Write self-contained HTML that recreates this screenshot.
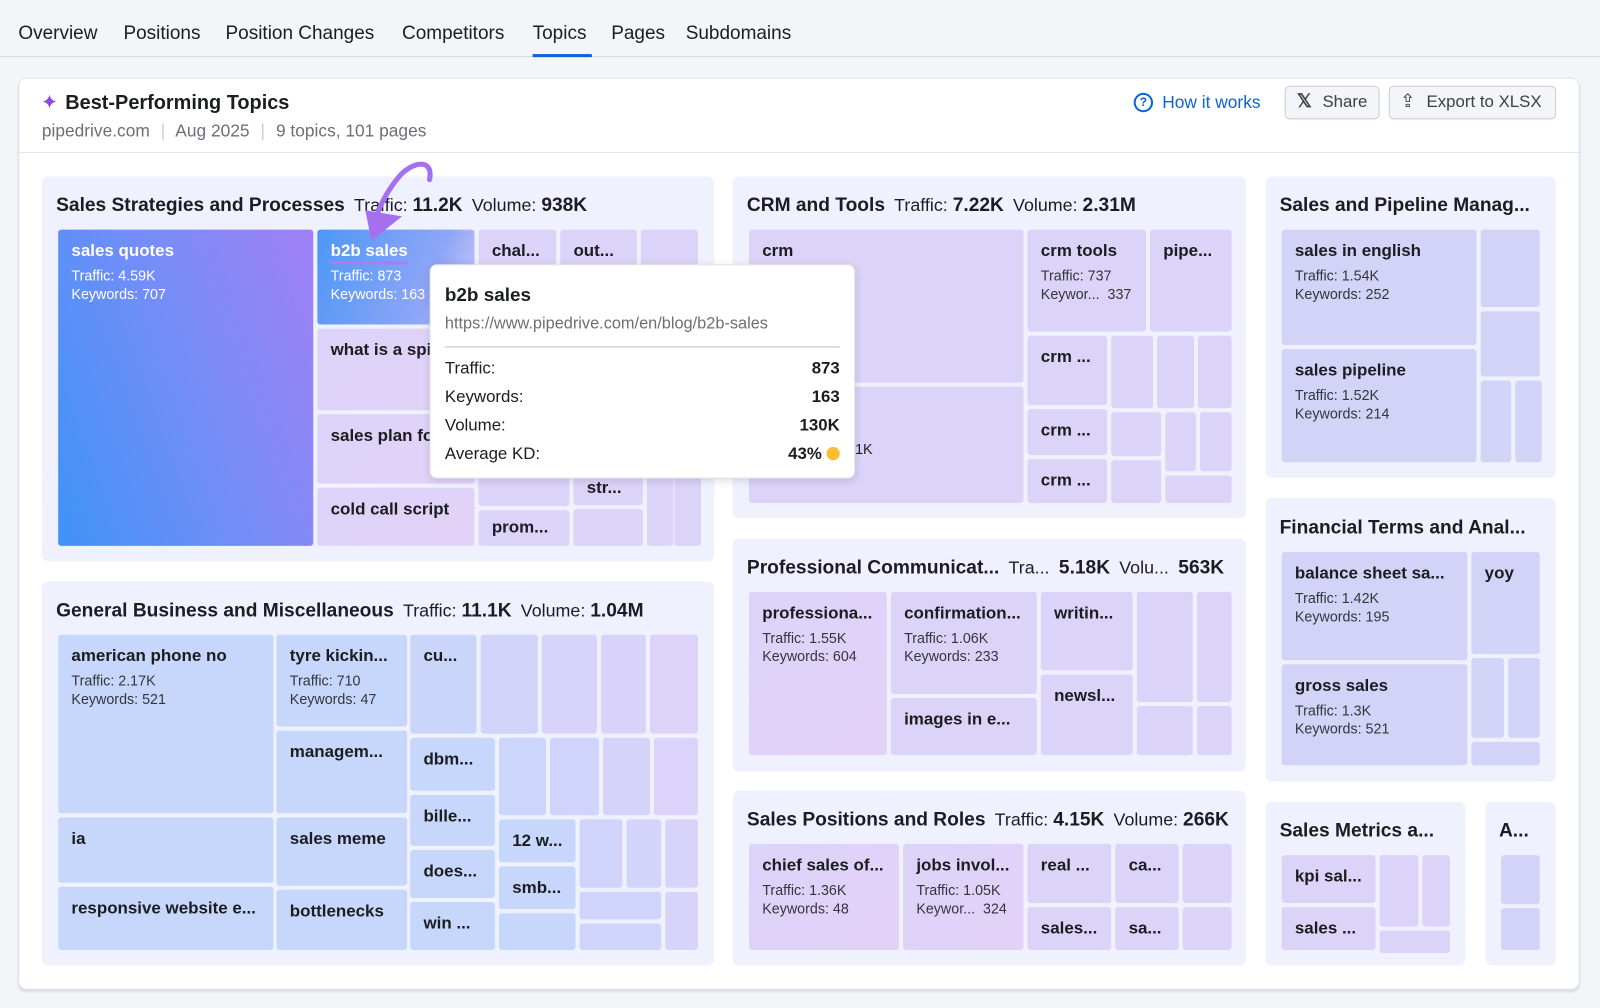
<!DOCTYPE html>
<html><head><meta charset="utf-8">
<style>
*{box-sizing:border-box;margin:0;padding:0}
html,body{width:1600px;height:1008px;overflow:hidden;background:#f4f5f9;font-family:"Liberation Sans",sans-serif;color:#1b1d21}
#w{position:absolute;left:0;top:0;width:1568px;height:988px;transform:scale(1.0204);transform-origin:0 0}
.a{position:absolute}
.nav{font-size:18.6px;top:21px;color:#1b1d21}
.card{left:18px;top:76px;width:1530px;height:894px;background:#fff;border:1px solid #e2e4ea;border-radius:8px;box-shadow:0 2px 2px #d8dae2}
.p{position:absolute;background:#eff2fe;border-radius:6px}
.h{position:absolute;font-size:18.8px;font-weight:bold;white-space:nowrap}
.h span{font-weight:normal;font-size:17.5px;margin-left:9px}
.h b{font-weight:bold;font-size:18.8px}
.t{position:absolute;border-radius:3px;background:#c6d7fb;padding:11px 13px;overflow:hidden;white-space:nowrap}
.l{background:#dcd3f8}
.f{background:#d3d3f8}
.v{background:linear-gradient(135deg,#dcd3f8,#e3d2f8)}
.t b{display:block;font-size:16.6px;margin-bottom:5px}
.t i{display:block;font-style:normal;font-size:14px;line-height:18px;color:#33363d}
.btn{position:absolute;top:84px;height:33px;border:1px solid #c9ccd4;border-radius:5px;background:#f4f5f8;font-size:16.5px;color:#3c3f46;padding:6px 10px 0 36px}
</style></head><body><div id="w">
<div class="a nav" style="left:18px">Overview</div>
<div class="a nav" style="left:121px">Positions</div>
<div class="a nav" style="left:221px">Position Changes</div>
<div class="a nav" style="left:394px">Competitors</div>
<div class="a nav" style="left:522px">Topics</div>
<div class="a nav" style="left:599px">Pages</div>
<div class="a nav" style="left:672px">Subdomains</div>
<div class="a" style="left:0;top:55px;width:1568px;height:1px;background:#d5d7de"></div>
<div class="a" style="left:522px;top:53px;width:58px;height:3px;background:#0b63d4"></div>
<div class="a card"></div>
<div class="a" style="left:40px;top:88px;font-size:20px;color:#9146e8">&#10022;</div>
<div class="a" style="left:64px;top:90px;font-size:19.5px;font-weight:bold">Best-Performing Topics</div>
<div class="a" style="left:41px;top:119px;font-size:17px;color:#6c6f78">pipedrive.com <span style="color:#ccc;margin:0 6px">|</span> Aug 2025 <span style="color:#ccc;margin:0 6px">|</span> 9 topics, 101 pages</div>
<div class="a" style="left:1111px;top:91px;width:19px;height:19px;border:2px solid #0b63d4;border-radius:50%;font-size:12px;font-weight:bold;color:#0b63d4;text-align:center;line-height:15px">?</div>
<div class="a" style="left:1139px;top:91px;font-size:17px;color:#0b63d4">How it works</div>
<div class="btn" style="left:1259px;width:93px"><span class="a" style="left:11px;top:4px;font-size:18px;font-weight:bold">𝕏</span>Share</div>
<div class="btn" style="left:1361px;width:164px"><span class="a" style="left:10px;top:4px;font-size:18px">⇪</span>Export to XLSX</div>
<div class="a" style="left:18px;top:149px;width:1530px;height:1px;background:#e4e6eb"></div>

<!-- panel 1 -->
<div class="p" style="left:41px;top:173px;width:659px;height:377px"></div>
<div class="h" style="left:55px;top:190px">Sales Strategies and Processes<span>Traffic: <b>11.2K</b></span><span>Volume: <b>938K</b></span></div>
<div class="t" style="left:57px;top:225px;width:250px;height:310px;background:linear-gradient(70deg,#3f93f6,#7d8cf8 60%,#a07ff5);color:#fff"><b>sales quotes</b><i style="color:#fff">Traffic: 4.59K</i><i style="color:#fff">Keywords: 707</i></div>
<div class="t" style="left:311px;top:225px;width:154px;height:93px;background:linear-gradient(110deg,#4d97f6,#8fa6f7 70%,#cfc9f8);color:#fff"><b style="text-decoration:underline;text-decoration-color:#b07af0;text-decoration-thickness:3px;text-underline-offset:5px">b2b sales</b><i style="color:#fff">Traffic: 873</i><i style="color:#fff">Keywords: 163</i></div>
<div class="t l" style="left:469px;top:225px;width:76px;height:93px"><b>chal...</b></div>
<div class="t l" style="left:549px;top:225px;width:75px;height:93px"><b>out...</b></div>
<div class="t l" style="left:628px;top:225px;width:56px;height:93px"></div>
<div class="t v" style="left:311px;top:322px;width:154px;height:80px"><b>what is a spin</b></div>
<div class="t v" style="left:311px;top:406px;width:154px;height:68px"><b>sales plan for</b></div>
<div class="t v" style="left:311px;top:478px;width:154px;height:57px"><b>cold call script</b></div>
<div class="t l" style="left:469px;top:440px;width:89px;height:56px"></div>
<div class="t l" style="left:562px;top:440px;width:68px;height:55px;padding-top:28px"><b>str...</b></div>
<div class="t l" style="left:469px;top:500px;width:89px;height:35px;padding-top:7px"><b>prom...</b></div>
<div class="t l" style="left:562px;top:499px;width:68px;height:36px"></div>
<div class="t l" style="left:634px;top:440px;width:23px;height:95px"></div>
<div class="t l" style="left:661px;top:440px;width:23px;height:95px"></div>

<!-- panel CRM -->
<div class="p" style="left:718px;top:173px;width:503px;height:335px"></div>
<div class="h" style="left:732px;top:190px">CRM and Tools<span>Traffic: <b>7.22K</b></span><span>Volume: <b>2.31M</b></span></div>
<div class="t l" style="left:734px;top:225px;width:269px;height:150px"><b>crm</b></div>
<div class="t l" style="left:734px;top:379px;width:269px;height:114px"><span class="a" style="left:104px;top:53px;font-size:14px">1K</span></div>
<div class="t l" style="left:1007px;top:225px;width:116px;height:100px"><b>crm tools</b><i>Traffic: 737</i><i>Keywor...&nbsp; 337</i></div>
<div class="t l" style="left:1127px;top:225px;width:80px;height:100px"><b>pipe...</b></div>
<div class="t l" style="left:1007px;top:329px;width:78px;height:68px"><b>crm ...</b></div>
<div class="t l" style="left:1089px;top:329px;width:41px;height:71px"></div>
<div class="t l" style="left:1134px;top:329px;width:36px;height:71px"></div>
<div class="t l" style="left:1174px;top:329px;width:33px;height:71px"></div>
<div class="t l" style="left:1007px;top:401px;width:78px;height:45px"><b>crm ...</b></div>
<div class="t l" style="left:1089px;top:404px;width:49px;height:43px"></div>
<div class="t l" style="left:1142px;top:404px;width:30px;height:58px"></div>
<div class="t l" style="left:1176px;top:404px;width:31px;height:58px"></div>
<div class="t l" style="left:1007px;top:450px;width:78px;height:43px"><b>crm ...</b></div>
<div class="t l" style="left:1089px;top:451px;width:49px;height:42px"></div>
<div class="t l" style="left:1142px;top:466px;width:65px;height:27px"></div>

<!-- panel Sales & Pipeline -->
<div class="p" style="left:1240px;top:173px;width:285px;height:295px"></div>
<div class="h" style="left:1254px;top:190px">Sales and Pipeline Manag...</div>
<div class="t f" style="left:1256px;top:225px;width:191px;height:113px"><b>sales in english</b><i>Traffic: 1.54K</i><i>Keywords: 252</i></div>
<div class="t f" style="left:1256px;top:342px;width:191px;height:111px"><b>sales pipeline</b><i>Traffic: 1.52K</i><i>Keywords: 214</i></div>
<div class="t f" style="left:1451px;top:225px;width:58px;height:76px"></div>
<div class="t f" style="left:1451px;top:305px;width:58px;height:64px"></div>
<div class="t f" style="left:1451px;top:373px;width:30px;height:80px"></div>
<div class="t f" style="left:1485px;top:373px;width:24px;height:80px"></div>

<!-- panel General -->
<div class="p" style="left:41px;top:570px;width:659px;height:376px"></div>
<div class="h" style="left:55px;top:587px">General Business and Miscellaneous<span>Traffic: <b>11.1K</b></span><span>Volume: <b>1.04M</b></span></div>
<div class="t" style="left:57px;top:622px;width:211px;height:175px"><b>american phone no</b><i>Traffic: 2.17K</i><i>Keywords: 521</i></div>
<div class="t" style="left:57px;top:801px;width:211px;height:64px"><b>ia</b></div>
<div class="t" style="left:57px;top:869px;width:211px;height:62px"><b>responsive website e...</b></div>
<div class="t" style="left:271px;top:622px;width:128px;height:90px"><b>tyre kickin...</b><i>Traffic: 710</i><i>Keywords: 47</i></div>
<div class="t" style="left:271px;top:716px;width:128px;height:81px"><b>managem...</b></div>
<div class="t" style="left:271px;top:801px;width:128px;height:67px"><b>sales meme</b></div>
<div class="t" style="left:271px;top:872px;width:128px;height:59px"><b>bottlenecks</b></div>
<div class="t" style="left:402px;top:622px;width:65px;height:97px;background:#cad5fa"><b>cu...</b></div>
<div class="t" style="left:471px;top:622px;width:56px;height:97px;background:#d2d3f9"></div>
<div class="t" style="left:531px;top:622px;width:54px;height:97px;background:#d7d3f9"></div>
<div class="t" style="left:589px;top:622px;width:44px;height:97px;background:#d9d3f9"></div>
<div class="t" style="left:637px;top:622px;width:47px;height:97px;background:#ddd3f9"></div>
<div class="t" style="left:402px;top:723px;width:83px;height:52px"><b>dbm...</b></div>
<div class="t" style="left:402px;top:779px;width:83px;height:50px"><b>bille...</b></div>
<div class="t" style="left:402px;top:833px;width:83px;height:47px"><b>does...</b></div>
<div class="t" style="left:402px;top:884px;width:83px;height:47px"><b>win ...</b></div>
<div class="t" style="left:489px;top:723px;width:46px;height:76px;background:#ccd5fa"></div>
<div class="t" style="left:539px;top:723px;width:48px;height:76px;background:#d1d4fa"></div>
<div class="t" style="left:591px;top:723px;width:46px;height:76px;background:#d6d3f9"></div>
<div class="t" style="left:641px;top:723px;width:43px;height:76px;background:#dbd3f9"></div>
<div class="t" style="left:489px;top:803px;width:75px;height:42px"><b>12 w...</b></div>
<div class="t" style="left:489px;top:849px;width:75px;height:42px"><b>smb...</b></div>
<div class="t" style="left:489px;top:895px;width:75px;height:36px"></div>
<div class="t" style="left:568px;top:803px;width:42px;height:67px;background:#d0d4fa"></div>
<div class="t" style="left:614px;top:803px;width:34px;height:67px;background:#d4d3fa"></div>
<div class="t" style="left:652px;top:803px;width:32px;height:67px;background:#d8d3f9"></div>
<div class="t" style="left:568px;top:874px;width:80px;height:27px;background:#d0d4fa"></div>
<div class="t" style="left:568px;top:905px;width:80px;height:26px;background:#d0d4fa"></div>
<div class="t" style="left:652px;top:874px;width:32px;height:57px;background:#d8d3f9"></div>

<!-- panel Professional -->
<div class="p" style="left:718px;top:528px;width:503px;height:228px"></div>
<div class="h" style="left:732px;top:545px">Professional Communicat...<span>Tra...</span> <b style="margin-left:4px">5.18K</b><span>Volu...</span> <b style="margin-left:4px">563K</b></div>
<div class="t v" style="left:734px;top:580px;width:135px;height:160px"><b>professiona...</b><i>Traffic: 1.55K</i><i>Keywords: 604</i></div>
<div class="t l" style="left:873px;top:580px;width:143px;height:100px"><b>confirmation...</b><i>Traffic: 1.06K</i><i>Keywords: 233</i></div>
<div class="t l" style="left:873px;top:684px;width:143px;height:56px"><b>images in e...</b></div>
<div class="t l" style="left:1020px;top:580px;width:90px;height:77px"><b>writin...</b></div>
<div class="t l" style="left:1020px;top:661px;width:90px;height:79px"><b>newsl...</b></div>
<div class="t l" style="left:1114px;top:580px;width:55px;height:108px"></div>
<div class="t l" style="left:1173px;top:580px;width:34px;height:108px"></div>
<div class="t l" style="left:1114px;top:692px;width:55px;height:48px"></div>
<div class="t l" style="left:1173px;top:692px;width:34px;height:48px"></div>

<!-- panel Sales Positions -->
<div class="p" style="left:718px;top:775px;width:503px;height:171px"></div>
<div class="h" style="left:732px;top:792px">Sales Positions and Roles<span>Traffic: <b>4.15K</b></span><span>Volume: <b>266K</b></span></div>
<div class="t v" style="left:734px;top:827px;width:147px;height:104px"><b>chief sales of...</b><i>Traffic: 1.36K</i><i>Keywords: 48</i></div>
<div class="t v" style="left:885px;top:827px;width:118px;height:104px"><b>jobs invol...</b><i>Traffic: 1.05K</i><i>Keywor...&nbsp; 324</i></div>
<div class="t l" style="left:1007px;top:827px;width:82px;height:58px"><b>real ...</b></div>
<div class="t l" style="left:1093px;top:827px;width:62px;height:58px"><b>ca...</b></div>
<div class="t l" style="left:1159px;top:827px;width:48px;height:58px"></div>
<div class="t l" style="left:1007px;top:889px;width:82px;height:42px"><b>sales...</b></div>
<div class="t l" style="left:1093px;top:889px;width:62px;height:42px"><b>sa...</b></div>
<div class="t l" style="left:1159px;top:889px;width:48px;height:42px"></div>

<!-- panel Financial -->
<div class="p" style="left:1240px;top:488px;width:285px;height:278px"></div>
<div class="h" style="left:1254px;top:506px">Financial Terms and Anal...</div>
<div class="t f" style="left:1256px;top:541px;width:182px;height:106px"><b>balance sheet sa...</b><i>Traffic: 1.42K</i><i>Keywords: 195</i></div>
<div class="t f" style="left:1442px;top:541px;width:67px;height:100px"><b>yoy</b></div>
<div class="t f" style="left:1256px;top:651px;width:182px;height:99px"><b>gross sales</b><i>Traffic: 1.3K</i><i>Keywords: 521</i></div>
<div class="t f" style="left:1442px;top:645px;width:32px;height:78px"></div>
<div class="t f" style="left:1478px;top:645px;width:31px;height:78px"></div>
<div class="t f" style="left:1442px;top:727px;width:67px;height:23px"></div>

<!-- panel Sales Metrics -->
<div class="p" style="left:1240px;top:786px;width:196px;height:160px"></div>
<div class="h" style="left:1254px;top:803px">Sales Metrics a...</div>
<div class="t l" style="left:1256px;top:838px;width:92px;height:47px"><b>kpi sal...</b></div>
<div class="t l" style="left:1256px;top:889px;width:92px;height:42px"><b>sales ...</b></div>
<div class="t l" style="left:1352px;top:838px;width:38px;height:70px"></div>
<div class="t l" style="left:1394px;top:838px;width:27px;height:70px"></div>
<div class="t l" style="left:1352px;top:912px;width:69px;height:19px"></div>
<div class="p" style="left:1456px;top:786px;width:69px;height:160px"></div>
<div class="h" style="left:1469px;top:803px">A...</div>
<div class="t f" style="left:1471px;top:838px;width:38px;height:48px"></div>
<div class="t f" style="left:1471px;top:890px;width:38px;height:41px"></div>

<!-- tooltip -->
<div class="a" style="left:421px;top:259px;width:417px;height:210px;background:#fff;border-radius:7px;box-shadow:0 2px 8px rgba(60,60,90,.18);border:1px solid #e4e4ea">
 <div class="a" style="left:14px;top:18px;font-size:18.5px;font-weight:bold">b2b sales</div>
 <div class="a" style="left:14px;top:49px;font-size:16px;color:#6c6f78">https://www.pipedrive.com/en/blog/b2b-sales</div>
 <div class="a" style="left:14px;top:79px;width:387px;height:2px;background:#dcdde2"></div>
 <div class="a" style="left:14px;top:87px;width:387px;font-size:16.5px;line-height:28px">
  <div style="display:flex;justify-content:space-between"><span>Traffic:</span><b>873</b></div>
  <div style="display:flex;justify-content:space-between"><span>Keywords:</span><b>163</b></div>
  <div style="display:flex;justify-content:space-between"><span>Volume:</span><b>130K</b></div>
  <div style="display:flex;justify-content:space-between"><span>Average KD:</span><span><b>43%</b> <span style="display:inline-block;width:13px;height:13px;border-radius:50%;background:#fbbd32;vertical-align:-1px"></span></span></div>
 </div>
</div>
<svg class="a" style="left:0;top:0" width="1568" height="988">
 <path d="M421 176 C425 155 405 158 392 172 C380 186 373 200 369 212" fill="none" stroke="#a66ff0" stroke-width="5" stroke-linecap="round"/>
 <polygon points="358,206 394,212 364,236" fill="#a66ff0"/>
</svg>
</div></body></html>
